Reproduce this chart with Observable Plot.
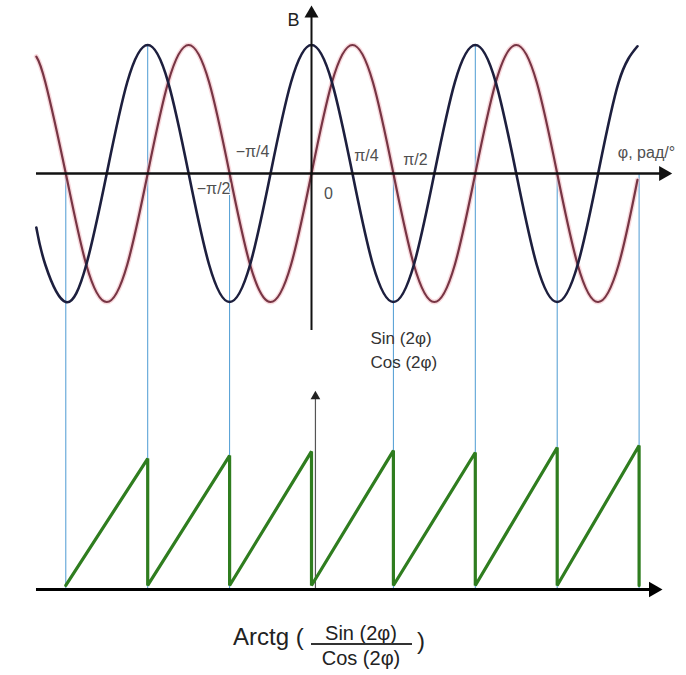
<!DOCTYPE html>
<html>
<head>
<meta charset="utf-8">
<script src="https://cdn.jsdelivr.net/npm/d3@7"></script>
<script src="https://cdn.jsdelivr.net/npm/@observablehq/plot@0.6"></script>
<style>
  body { margin: 0; background: #fff; font-family: "Liberation Sans", Arial, sans-serif; }
  #chart { width: 686px; }
  .caption { position: relative; width: 686px; height: 63px; color: #222; }
  .caption span { position: absolute; line-height: 1; white-space: nowrap; }
  .caption .big { font-size: 24px; }
  .caption .frac { font-size: 20px; width: 100px; text-align: center; left: 311px; }
  .caption .bar { position: absolute; left: 311px; top: 31px; width: 101px; height: 1.5px; background: #333; }
</style>
</head>
<body>
<div id="chart"></div>
<div class="caption">
  <span class="big" style="left:233px; top:13px">Arctg (</span>
  <span class="frac" style="top:11px">Sin (2φ)</span>
  <div class="bar"></div>
  <span class="frac" style="top:36px">Cos (2φ)</span>
  <span class="big" style="left:417px; top:17px">)</span>
</div>
<script>
// φ is measured in multiples of π; the waves are in units of their amplitude.
// Knots every π/8, read off the peaks, troughs and crossings of the picture.
const phiKnots = [-1.68, -1.625, -1.5, -1.375, -1.25, -1.125, -1, -0.875, -0.75, -0.625, -0.5,
  -0.375, -0.25, -0.125, 0, 0.125, 0.25, 0.375, 0.5, 0.625, 0.75, 0.875, 1, 1.125, 1.25,
  1.375, 1.5, 1.625, 1.75, 1.875, 1.99];
const cosValues = [-0.42, -0.71, -1, -0.71, 0, 0.71, 1, 0.71, 0, -0.71, -1,
  -0.71, 0, 0.71, 1, 0.71, 0, -0.71, -1, -0.71, 0, 0.71, 1, 0.71, 0,
  -0.71, -1, -0.71, 0, 0.71, 0.99];
const sinValues = [0.91, 0.71, 0, -0.71, -1, -0.71, 0, 0.71, 1, 0.71, 0,
  -0.71, -1, -0.71, 0, 0.71, 1, 0.71, 0, -0.71, -1, -0.71, 0, 0.71, 1,
  0.71, 0, -0.71, -1, -0.71, -0.05];

// Guide lines dropped from the upper graph (φ = kπ/2) and where each starts.
const guidePhi = [-1.5, -1, -0.5, 0.5, 1, 1.5, 2];
const guideTop = [0, 1, 0, 0, 1, 0, 0];

// Arctg sawtooth: teeth between the guides, low level and each tooth's peak.
const toothPhi = [-1.5, -1, -0.5, 0, 0.5, 1, 1.5, 2];
const toothLow = -3.206;
const toothTop = [-2.218, -2.195, -2.163, -2.156, -2.171, -2.132, -2.117];
const lowerAxis = -3.237;

const tickLabels = ["−π/2", "−π/4", "0", "π/4", "π/2"];
const tickPhi = [-0.5, -0.25, 0, 0.25, 0.5];

const cosRows = phiKnots.map((phi, i) => ({ phi, v: cosValues[i] }));
const sinRows = phiKnots.map((phi, i) => ({ phi, v: sinValues[i] }));
const guides = guidePhi.map((phi, i) => ({ phi, top: guideTop[i] }));
const saw = [{ phi: toothPhi[0], v: toothLow }];
for (let i = 0; i < toothTop.length; i++) {
  saw.push({ phi: toothPhi[i + 1], v: toothTop[i] });
  saw.push({ phi: toothPhi[i + 1], v: toothLow });
}
const ticks = tickLabels.map((label, i) => ({ label, phi: tickPhi[i] }));
// label offsets from their tick, as placed in the drawing
const nudge = [[-16, 15], [-18, -22], [17, 20], [14, -18], [22, -14]];

const font = "Liberation Sans, Arial, sans-serif";
const fig = Plot.plot({
  width: 686,
  height: 612,
  margin: 0,
  style: { fontFamily: font, background: "#fff" },
  x: { domain: [-1.8987, 2.2894], axis: null },
  y: { domain: [-3.4163, 1.3463], axis: null },
  marks: [
    Plot.ruleX(guides, { x: "phi", y1: "top", y2: lowerAxis, stroke: "#4d9bd3", strokeWidth: 1 }),
    Plot.ruleX([0.024], { y1: lowerAxis, y2: -1.74, stroke: "#555", strokeWidth: 1.2 }),
    Plot.dot([0.024], { x: (d) => d, y: -1.735, symbol: "triangle", r: 3.6, fill: "#222", stroke: null }),
    Plot.line(sinRows, { x: "phi", y: "v", curve: "natural", stroke: "#f4c0c6", strokeWidth: 5, strokeOpacity: 0.6 }),
    Plot.line(sinRows, { x: "phi", y: "v", curve: "natural", stroke: "#773544", strokeWidth: 2.2 }),
    Plot.line(cosRows, { x: "phi", y: "v", curve: "natural", stroke: "#1d1f3e", strokeWidth: 2.6 }),
    Plot.ruleY([0], { x1: -1.679, x2: 2.14, stroke: "#111", strokeWidth: 2.6 }),
    Plot.dot([2.149], { x: (d) => d, y: 0, symbol: "triangle", rotate: 90, r: 5.6, fill: "#111", stroke: null }),
    Plot.ruleX([0], { y1: -1.222, y2: 1.24, stroke: "#111", strokeWidth: 2 }),
    Plot.dot([0], { x: (d) => d, y: 1.245, symbol: "triangle", r: 5.2, fill: "#111", stroke: null }),
    Plot.line(saw, { x: "phi", y: "v", stroke: "#2f7d1f", strokeWidth: 3.2, strokeLinejoin: "miter" }),
    Plot.ruleY([lowerAxis], { x1: -1.679, x2: 2.08, stroke: "#000", strokeWidth: 3 }),
    Plot.dot([2.088], { x: (d) => d, y: lowerAxis, symbol: "triangle", rotate: 90, r: 5.8, fill: "#000", stroke: null }),
    ...ticks.map((t, i) => Plot.text([t], {
      x: "phi", y: 0, text: "label", dx: nudge[i][0], dy: nudge[i][1],
      fontSize: 16, fill: "#505050", stroke: "#fff", strokeWidth: 2
    })),
    Plot.text(["φ, рад/°"], { x: 2.045, y: 0.163, text: (d) => d, fontSize: 16, fill: "#505050" }),
    Plot.text(["B"], { x: -0.11, y: 1.191, text: (d) => d, fontSize: 18, fill: "#222" }),
    Plot.text(["Sin (2φ)", "Cos (2φ)"], {
      x: 0.36, y: (d, i) => -1.284 - i * 0.187, text: (d) => d,
      textAnchor: "start", fontSize: 17, fill: "#333"
    })
  ]
});
document.getElementById("chart").replaceChildren(fig);
</script>
</body>
</html>
